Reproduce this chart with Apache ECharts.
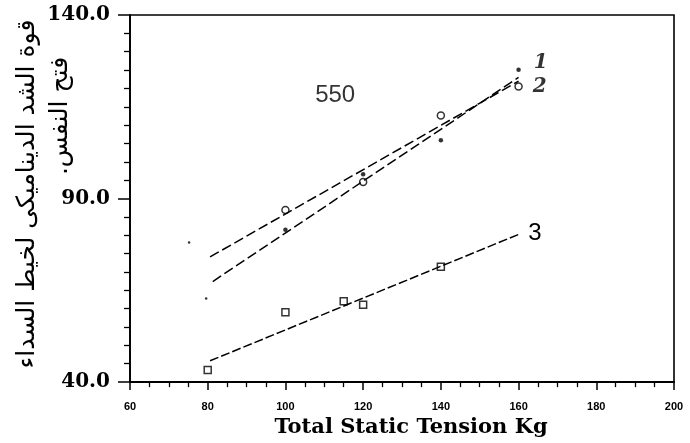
<!DOCTYPE html>
<html>
<head>
<meta charset="utf-8">
<script src="https://cdn.jsdelivr.net/npm/echarts@6/dist/echarts.min.js"></script>
<style>
html,body{margin:0;padding:0;background:#fff;}
#chart{width:690px;height:443px;}
</style>
</head>
<body>
<div id="chart"></div>
<script>
// ---- data ----
const xMin = 60, xMax = 200, xStep = 20;
const yMin = 40, yMax = 140, yStep = 50;

const dotX = [100, 120, 140, 160];
const dotY = [81.5, 96.6, 105.9, 125.1];

const circleX = [100, 120, 140, 160];
const circleY = [86.9, 94.5, 112.6, 120.5];

const squareX = [80, 100, 115, 120, 140];
const squareY = [43.3, 59.0, 62.0, 61.1, 71.4];

const fit1X = [81.3, 160];
const fit1Y = [67.4, 123.0];
const fit2X = [80.6, 160];
const fit2Y = [74.1, 122.0];
const fit3X = [80.6, 160.4];
const fit3Y = [45.8, 80.4];

const strayX = [75.2, 79.6];
const strayY = [78.0, 62.8];

const annotX = [112.8];
const annotY = [118.0];
const annotText = ['550'];

const yTitle1 = 'قوة الشد الديناميكى لخيط السداء';
const yTitle2 = '.' + 'فتح النفس';
const xTitle = 'Total Static Tension Kg';

function pairs(xs, ys) { return xs.map((x, i) => [x, ys[i]]); }

const chart = echarts.init(document.getElementById('chart'), null, {renderer: 'canvas'});

const lastDot = dotX.length - 1;
const lastCircle = circleX.length - 1;

chart.setOption({
  backgroundColor: '#ffffff',
  animation: false,
  grid: {left: 130, right: 16, top: 15, bottom: 59, show: true, borderColor: '#000', borderWidth: 1.6},
  xAxis: {
    type: 'value', min: xMin, max: xMax, interval: xStep,
    axisLine: {lineStyle: {color: '#000', width: 1.8}},
    axisTick: {length: 8, lineStyle: {color: '#000', width: 1.5}},
    minorTick: {show: true, splitNumber: 4, length: 5, lineStyle: {color: '#000', width: 1.3}},
    splitLine: {show: false},
    axisLabel: {margin: 19, color: '#000', fontFamily: 'Liberation Sans', fontWeight: 'bold', fontSize: 11},
    name: xTitle, nameLocation: 'middle', nameGap: 30,
    nameTextStyle: {color: '#000', fontFamily: 'DejaVu Serif', fontWeight: 'bold', fontSize: 21, padding: [0, 0, 0, 18]}
  },
  yAxis: {
    type: 'value', min: yMin, max: yMax, interval: yStep,
    axisLine: {lineStyle: {color: '#000', width: 1.8}},
    axisTick: {length: 12, lineStyle: {color: '#000', width: 1.5}},
    minorTick: {show: true, splitNumber: 10, length: 6, lineStyle: {color: '#000', width: 1.3}},
    splitLine: {show: false},
    axisLabel: {margin: 20, color: '#000', fontFamily: 'DejaVu Serif', fontWeight: 'bold', fontSize: 20,
      formatter: v => v.toFixed(1)}
  },
  graphic: [
    {type: 'text', x: 27, y: 194, rotation: Math.PI / 2,
      style: {text: yTitle1, font: '25px "DejaVu Sans"', fill: '#000', align: 'center', verticalAlign: 'middle',
        textAlign: 'center', textVerticalAlign: 'middle'}},
    {type: 'text', x: 60, y: 116, rotation: Math.PI / 2,
      style: {text: yTitle2, font: '25px "DejaVu Sans"', fill: '#000', align: 'center', verticalAlign: 'middle',
        textAlign: 'center', textVerticalAlign: 'middle'}}
  ],
  series: [
    {type: 'line', data: pairs(fit1X, fit1Y), symbol: 'none', silent: true,
      lineStyle: {color: '#000', width: 1.5, type: [10, 4]}},
    {type: 'line', data: pairs(fit2X, fit2Y), symbol: 'none', silent: true,
      lineStyle: {color: '#000', width: 1.5, type: [10, 4]}},
    {type: 'line', data: pairs(fit3X, fit3Y), symbol: 'none', silent: true,
      lineStyle: {color: '#000', width: 1.5, type: [9, 3]},
      endLabel: {show: true, formatter: '3', distance: 8, color: '#000', fontFamily: 'Liberation Sans', fontSize: 24}},
    {type: 'scatter', data: pairs(dotX, dotY).map((p, i) => i === lastDot ?
        {value: p, label: {show: true, formatter: '1', position: 'right', distance: 13, offset: [0, -7],
          color: '#000', fontFamily: 'DejaVu Serif', fontStyle: 'italic', fontWeight: 'bold', fontSize: 20}} : p),
      symbol: 'circle', symbolSize: 4.5, itemStyle: {color: '#000'}},
    {type: 'scatter', data: pairs(circleX, circleY).map((p, i) => i === lastCircle ?
        {value: p, label: {show: true, formatter: '2', position: 'right', distance: 10, offset: [0, 0],
          color: '#000', fontFamily: 'DejaVu Serif', fontStyle: 'italic', fontWeight: 'bold', fontSize: 20}} : p),
      symbol: 'circle', symbolSize: 7, itemStyle: {color: '#fff', borderColor: '#000', borderWidth: 1.5}},
    {type: 'scatter', data: pairs(squareX, squareY),
      symbol: 'rect', symbolSize: 7, itemStyle: {color: '#fff', borderColor: '#000', borderWidth: 1.5}},
    {type: 'scatter', data: pairs(strayX, strayY), symbol: 'circle', symbolSize: 2.5, itemStyle: {color: '#000'}},
    {type: 'scatter', data: pairs(annotX, annotY), symbolSize: 0,
      label: {show: true, position: 'inside', formatter: p => annotText[p.dataIndex],
        color: '#000', fontFamily: 'Liberation Sans', fontSize: 24}}
  ]
});
</script>
</body>
</html>
